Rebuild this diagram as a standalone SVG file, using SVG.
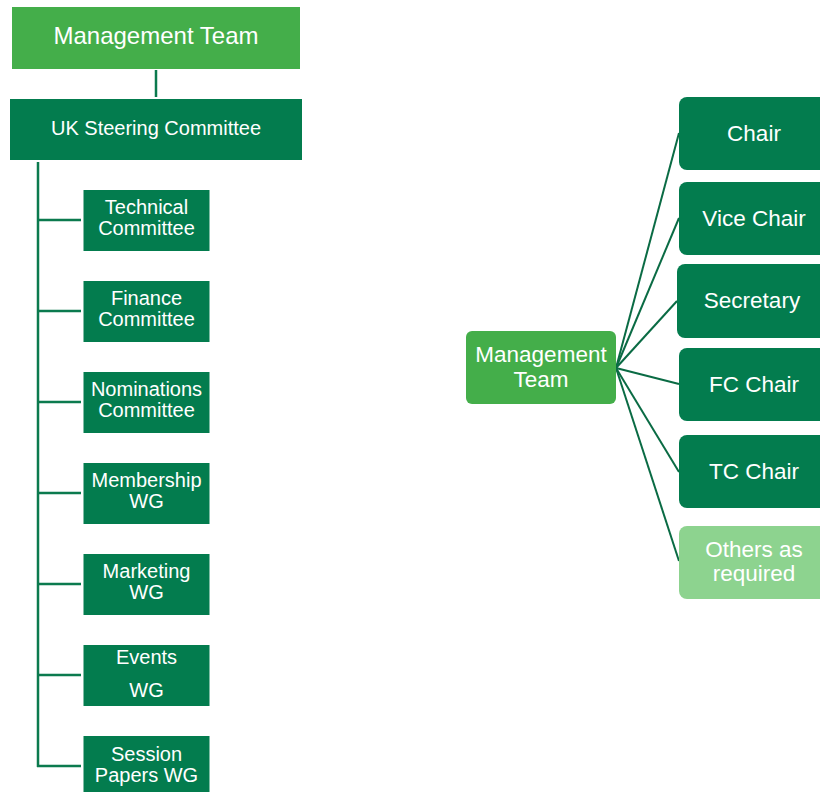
<svg xmlns="http://www.w3.org/2000/svg" width="820" height="792" viewBox="0 0 820 792">
<style>
.dark{fill:#037C4E}
.light{fill:#44AE4A}
.pale{fill:#8DD38F}
text{font-family:"Liberation Sans",Arial,sans-serif;fill:#ffffff;text-anchor:middle}
.t20{font-size:20px}
.t24{font-size:24px}
.t22{font-size:22.5px}
.conn{stroke:#0B7A4E;stroke-width:2.5;fill:none}
.conn2{stroke:#0A6B44;stroke-width:2;fill:none}
</style>
<rect width="820" height="792" fill="#ffffff"/>
<g id="connectors">
<line class="conn" x1="156" y1="70" x2="156" y2="97"/>
<line class="conn" x1="38" y1="162" x2="38" y2="767"/>
<line class="conn" x1="37" y1="220" x2="81" y2="220"/>
<line class="conn" x1="37" y1="311" x2="81" y2="311"/>
<line class="conn" x1="37" y1="402" x2="81" y2="402"/>
<line class="conn" x1="37" y1="493" x2="81" y2="493"/>
<line class="conn" x1="37" y1="584" x2="81" y2="584"/>
<line class="conn" x1="37" y1="675" x2="81" y2="675"/>
<line class="conn" x1="37" y1="766" x2="81" y2="766"/>
<line class="conn2" x1="616" y1="368" x2="679" y2="133"/>
<line class="conn2" x1="616" y1="368" x2="679" y2="218"/>
<line class="conn2" x1="616" y1="368" x2="677" y2="301"/>
<line class="conn2" x1="616" y1="368" x2="679" y2="384"/>
<line class="conn2" x1="616" y1="368" x2="679" y2="472"/>
<line class="conn2" x1="616" y1="368" x2="679" y2="561"/>
</g>
<g id="mgmt-top">
<rect class="light" x="12" y="7" width="288" height="62"/>
<text class="t24" x="156" y="44">Management Team</text>
</g>
<g id="uk-steering">
<rect class="dark" x="10" y="99" width="292" height="61"/>
<text class="t20" x="156" y="135">UK Steering Committee</text>
</g>
<g id="technical">
<rect class="dark" x="83.5" y="190" width="126" height="61"/>
<text class="t20" x="146.5" y="214">Technical</text>
<text class="t20" x="146.5" y="235">Committee</text>
</g>
<g id="finance">
<rect class="dark" x="83.5" y="281" width="126" height="61"/>
<text class="t20" x="146.5" y="305">Finance</text>
<text class="t20" x="146.5" y="326">Committee</text>
</g>
<g id="nominations">
<rect class="dark" x="83.5" y="372" width="126" height="61"/>
<text class="t20" x="146.5" y="396">Nominations</text>
<text class="t20" x="146.5" y="417">Committee</text>
</g>
<g id="membership">
<rect class="dark" x="83.5" y="463" width="126" height="61"/>
<text class="t20" x="146.5" y="487">Membership</text>
<text class="t20" x="146.5" y="508">WG</text>
</g>
<g id="marketing">
<rect class="dark" x="83.5" y="554" width="126" height="61"/>
<text class="t20" x="146.5" y="578">Marketing</text>
<text class="t20" x="146.5" y="599">WG</text>
</g>
<g id="events">
<rect class="dark" x="83.5" y="645" width="126" height="61"/>
<text class="t20" x="146.5" y="664">Events</text>
<text class="t20" x="146.5" y="697">WG</text>
</g>
<g id="session">
<rect class="dark" x="83.5" y="736" width="126" height="61"/>
<text class="t20" x="146.5" y="761">Session</text>
<text class="t20" x="146.5" y="782">Papers WG</text>
</g>
<g id="mgmt-right">
<rect class="light" x="466" y="331" width="150" height="73" rx="6"/>
<text class="t22" x="541" y="362">Management</text>
<text class="t22" x="541" y="387">Team</text>
</g>
<g id="chair">
<rect class="dark" x="679" y="97" width="150" height="73" rx="8"/>
<text class="t22" x="754" y="141">Chair</text>
</g>
<g id="vice-chair">
<rect class="dark" x="679" y="182" width="150" height="73" rx="8"/>
<text class="t22" x="754" y="226">Vice Chair</text>
</g>
<g id="secretary">
<rect class="dark" x="677" y="264" width="152" height="74" rx="8"/>
<text class="t22" x="752" y="308">Secretary</text>
</g>
<g id="fc-chair">
<rect class="dark" x="679" y="348" width="150" height="73" rx="8"/>
<text class="t22" x="754" y="392">FC Chair</text>
</g>
<g id="tc-chair">
<rect class="dark" x="679" y="435" width="150" height="73" rx="8"/>
<text class="t22" x="754" y="479">TC Chair</text>
</g>
<g id="others">
<rect class="pale" x="679" y="526" width="150" height="73" rx="8"/>
<text class="t22" x="754" y="557">Others as</text>
<text class="t22" x="754" y="581">required</text>
</g>
</svg>
